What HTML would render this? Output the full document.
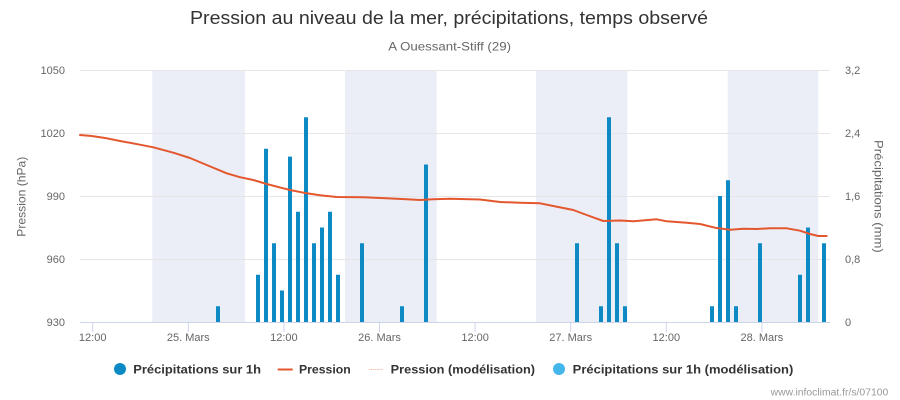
<!DOCTYPE html>
<html>
<head>
<meta charset="utf-8">
<style>
  html,body{margin:0;padding:0;background:#fff;}
  svg{display:block;}
  text{font-family:"Liberation Sans","DejaVu Sans",sans-serif;}
</style>
</head>
<body>
<svg width="900" height="400" viewBox="0 0 900 400" xmlns="http://www.w3.org/2000/svg">
  <rect x="0" y="0" width="900" height="400" fill="#ffffff"/>

  <!-- Title -->
  <text x="190" y="24" font-size="18" fill="#333333" textLength="518" lengthAdjust="spacingAndGlyphs">Pression au niveau de la mer, précipitations, temps observé</text>
  <text x="388.3" y="50.5" font-size="12" fill="#666666" textLength="122.7" lengthAdjust="spacingAndGlyphs">A Ouessant-Stiff (29)</text>

  <!-- Night bands -->
  <g fill="#ebeef6">
    <rect x="152.3" y="70" width="92.7" height="252"/>
    <rect x="345" y="70" width="91.7" height="252"/>
    <rect x="536" y="70" width="91.3" height="252"/>
    <rect x="727.7" y="70" width="90.6" height="252"/>
  </g>

  <!-- Grid lines -->
  <g stroke="#e6e6e6" stroke-width="1">
    <line x1="80" y1="70.5" x2="830" y2="70.5"/>
    <line x1="80" y1="133.5" x2="830" y2="133.5"/>
    <line x1="80" y1="196.5" x2="830" y2="196.5"/>
    <line x1="80" y1="259.5" x2="830" y2="259.5"/>
  </g>

  <!-- Bars -->
  <g fill="#0d8ac4">
    <rect x="216" y="306.25" width="4" height="15.75"/>
    <rect x="256" y="274.75" width="4" height="47.25"/>
    <rect x="264" y="148.75" width="4" height="173.25"/>
    <rect x="272" y="243.25" width="4" height="78.75"/>
    <rect x="280" y="290.5" width="4" height="31.5"/>
    <rect x="288" y="156.6" width="4" height="165.4"/>
    <rect x="296" y="211.75" width="4" height="110.25"/>
    <rect x="304" y="117.25" width="4" height="204.75"/>
    <rect x="312" y="243.25" width="4" height="78.75"/>
    <rect x="320" y="227.5" width="4" height="94.5"/>
    <rect x="328" y="211.75" width="4" height="110.25"/>
    <rect x="336" y="274.75" width="4" height="47.25"/>
    <rect x="360" y="243.25" width="4" height="78.75"/>
    <rect x="400" y="306.25" width="4" height="15.75"/>
    <rect x="424" y="164.5" width="4" height="157.5"/>
    <rect x="575" y="243.25" width="4" height="78.75"/>
    <rect x="599" y="306.25" width="4" height="15.75"/>
    <rect x="607" y="117.25" width="4" height="204.75"/>
    <rect x="615" y="243.25" width="4" height="78.75"/>
    <rect x="623" y="306.25" width="4" height="15.75"/>
    <rect x="710" y="306.25" width="4" height="15.75"/>
    <rect x="718" y="196" width="4" height="126"/>
    <rect x="726" y="180.25" width="4" height="141.75"/>
    <rect x="734" y="306.25" width="4" height="15.75"/>
    <rect x="758" y="243.25" width="4" height="78.75"/>
    <rect x="798" y="274.75" width="4" height="47.25"/>
    <rect x="806" y="227.5" width="4" height="94.5"/>
    <rect x="822" y="243.25" width="4" height="78.75"/>
  </g>

  <!-- X axis line and ticks -->
  <line x1="80" y1="322.5" x2="830" y2="322.5" stroke="#ccd6eb" stroke-width="1"/>
  <g stroke="#ccd6eb" stroke-width="1">
    <line x1="92.7" y1="322" x2="92.7" y2="332"/>
    <line x1="188.3" y1="322" x2="188.3" y2="332"/>
    <line x1="283.9" y1="322" x2="283.9" y2="332"/>
    <line x1="379.5" y1="322" x2="379.5" y2="332"/>
    <line x1="475.1" y1="322" x2="475.1" y2="332"/>
    <line x1="570.7" y1="322" x2="570.7" y2="332"/>
    <line x1="666.3" y1="322" x2="666.3" y2="332"/>
    <line x1="761.9" y1="322" x2="761.9" y2="332"/>
  </g>

  <!-- Pressure line -->
  <path d="M80,135 L91.7,136 L106.7,138.3 L120,141 L140,144.7 L153.3,147.3 L173.3,152.7 L190,158 L206.7,165 L226.7,173.3 L240,177.2 L253.3,180 L266.7,184 L283.3,188.3 L290,190 L306.7,193.3 L320,195.3 L336.7,197 L363.3,197.3 L380,198 L406.7,199.3 L420,200 L433.3,199.3 L450,198.7 L460,199 L480,199.5 L500,202 L520,202.7 L540,203.3 L553.3,206 L573.3,210 L586.7,215 L603.3,221 L620,220.5 L633.3,221.3 L656.7,219.3 L666.7,221.3 L686.7,222.7 L700,224 L715,227.7 L730,229.7 L743.3,228.7 L756.7,229 L770,228.3 L786.7,228.3 L800,230.7 L810,234 L818.3,236 L826.7,236" fill="none" stroke="#e4572e" stroke-width="2" stroke-linejoin="round" stroke-linecap="round"/>

  <!-- Left axis labels -->
  <g font-size="11" fill="#666666" text-anchor="end">
    <text x="65" y="74">1050</text>
    <text x="65" y="137">1020</text>
    <text x="65" y="200">990</text>
    <text x="65" y="263">960</text>
    <text x="65" y="326">930</text>
  </g>
  <text transform="translate(25.5,196.7) rotate(-90)" font-size="12" fill="#666666" text-anchor="middle" textLength="80" lengthAdjust="spacingAndGlyphs">Pression (hPa)</text>

  <!-- Right axis labels -->
  <g font-size="11" fill="#666666" text-anchor="start">
    <text x="845" y="74">3,2</text>
    <text x="845" y="137">2,4</text>
    <text x="845" y="200">1,6</text>
    <text x="845" y="263">0,8</text>
    <text x="845" y="326">0</text>
  </g>
  <text transform="translate(874.5,196.4) rotate(90)" font-size="12" fill="#666666" text-anchor="middle" textLength="112.7" lengthAdjust="spacingAndGlyphs">Précipitations (mm)</text>

  <!-- X axis labels -->
  <g font-size="11" fill="#666666" text-anchor="middle">
    <text x="92.7" y="341">12:00</text>
    <text x="188.3" y="341">25. Mars</text>
    <text x="283.9" y="341">12:00</text>
    <text x="379.5" y="341">26. Mars</text>
    <text x="475.1" y="341">12:00</text>
    <text x="570.7" y="341">27. Mars</text>
    <text x="666.3" y="341">12:00</text>
    <text x="761.9" y="341">28. Mars</text>
  </g>

  <!-- Legend -->
  <circle cx="120" cy="369" r="6" fill="#0d8ac4"/>
  <text x="133.3" y="373.5" font-size="12" font-weight="bold" fill="#333333" textLength="127.7" lengthAdjust="spacingAndGlyphs">Précipitations sur 1h</text>
  <line x1="277.7" y1="369.5" x2="292.7" y2="369.5" stroke="#e4572e" stroke-width="2"/>
  <text x="299" y="373.5" font-size="12" font-weight="bold" fill="#333333" textLength="51.7" lengthAdjust="spacingAndGlyphs">Pression</text>
  <line x1="369.3" y1="369.5" x2="383" y2="369.5" stroke="#f2a78d" stroke-width="1" stroke-dasharray="1,1"/>
  <text x="390.7" y="373.5" font-size="12" font-weight="bold" fill="#333333" textLength="144.3" lengthAdjust="spacingAndGlyphs">Pression (modélisation)</text>
  <circle cx="559" cy="369" r="6" fill="#44b7ea"/>
  <text x="572.7" y="373.5" font-size="12" font-weight="bold" fill="#333333" textLength="220.6" lengthAdjust="spacingAndGlyphs">Précipitations sur 1h (modélisation)</text>

  <!-- Footer -->
  <text x="770.7" y="395.5" font-size="10" fill="#999999" textLength="117.6" lengthAdjust="spacingAndGlyphs">www.infoclimat.fr/s/07100</text>
</svg>
</body>
</html>
